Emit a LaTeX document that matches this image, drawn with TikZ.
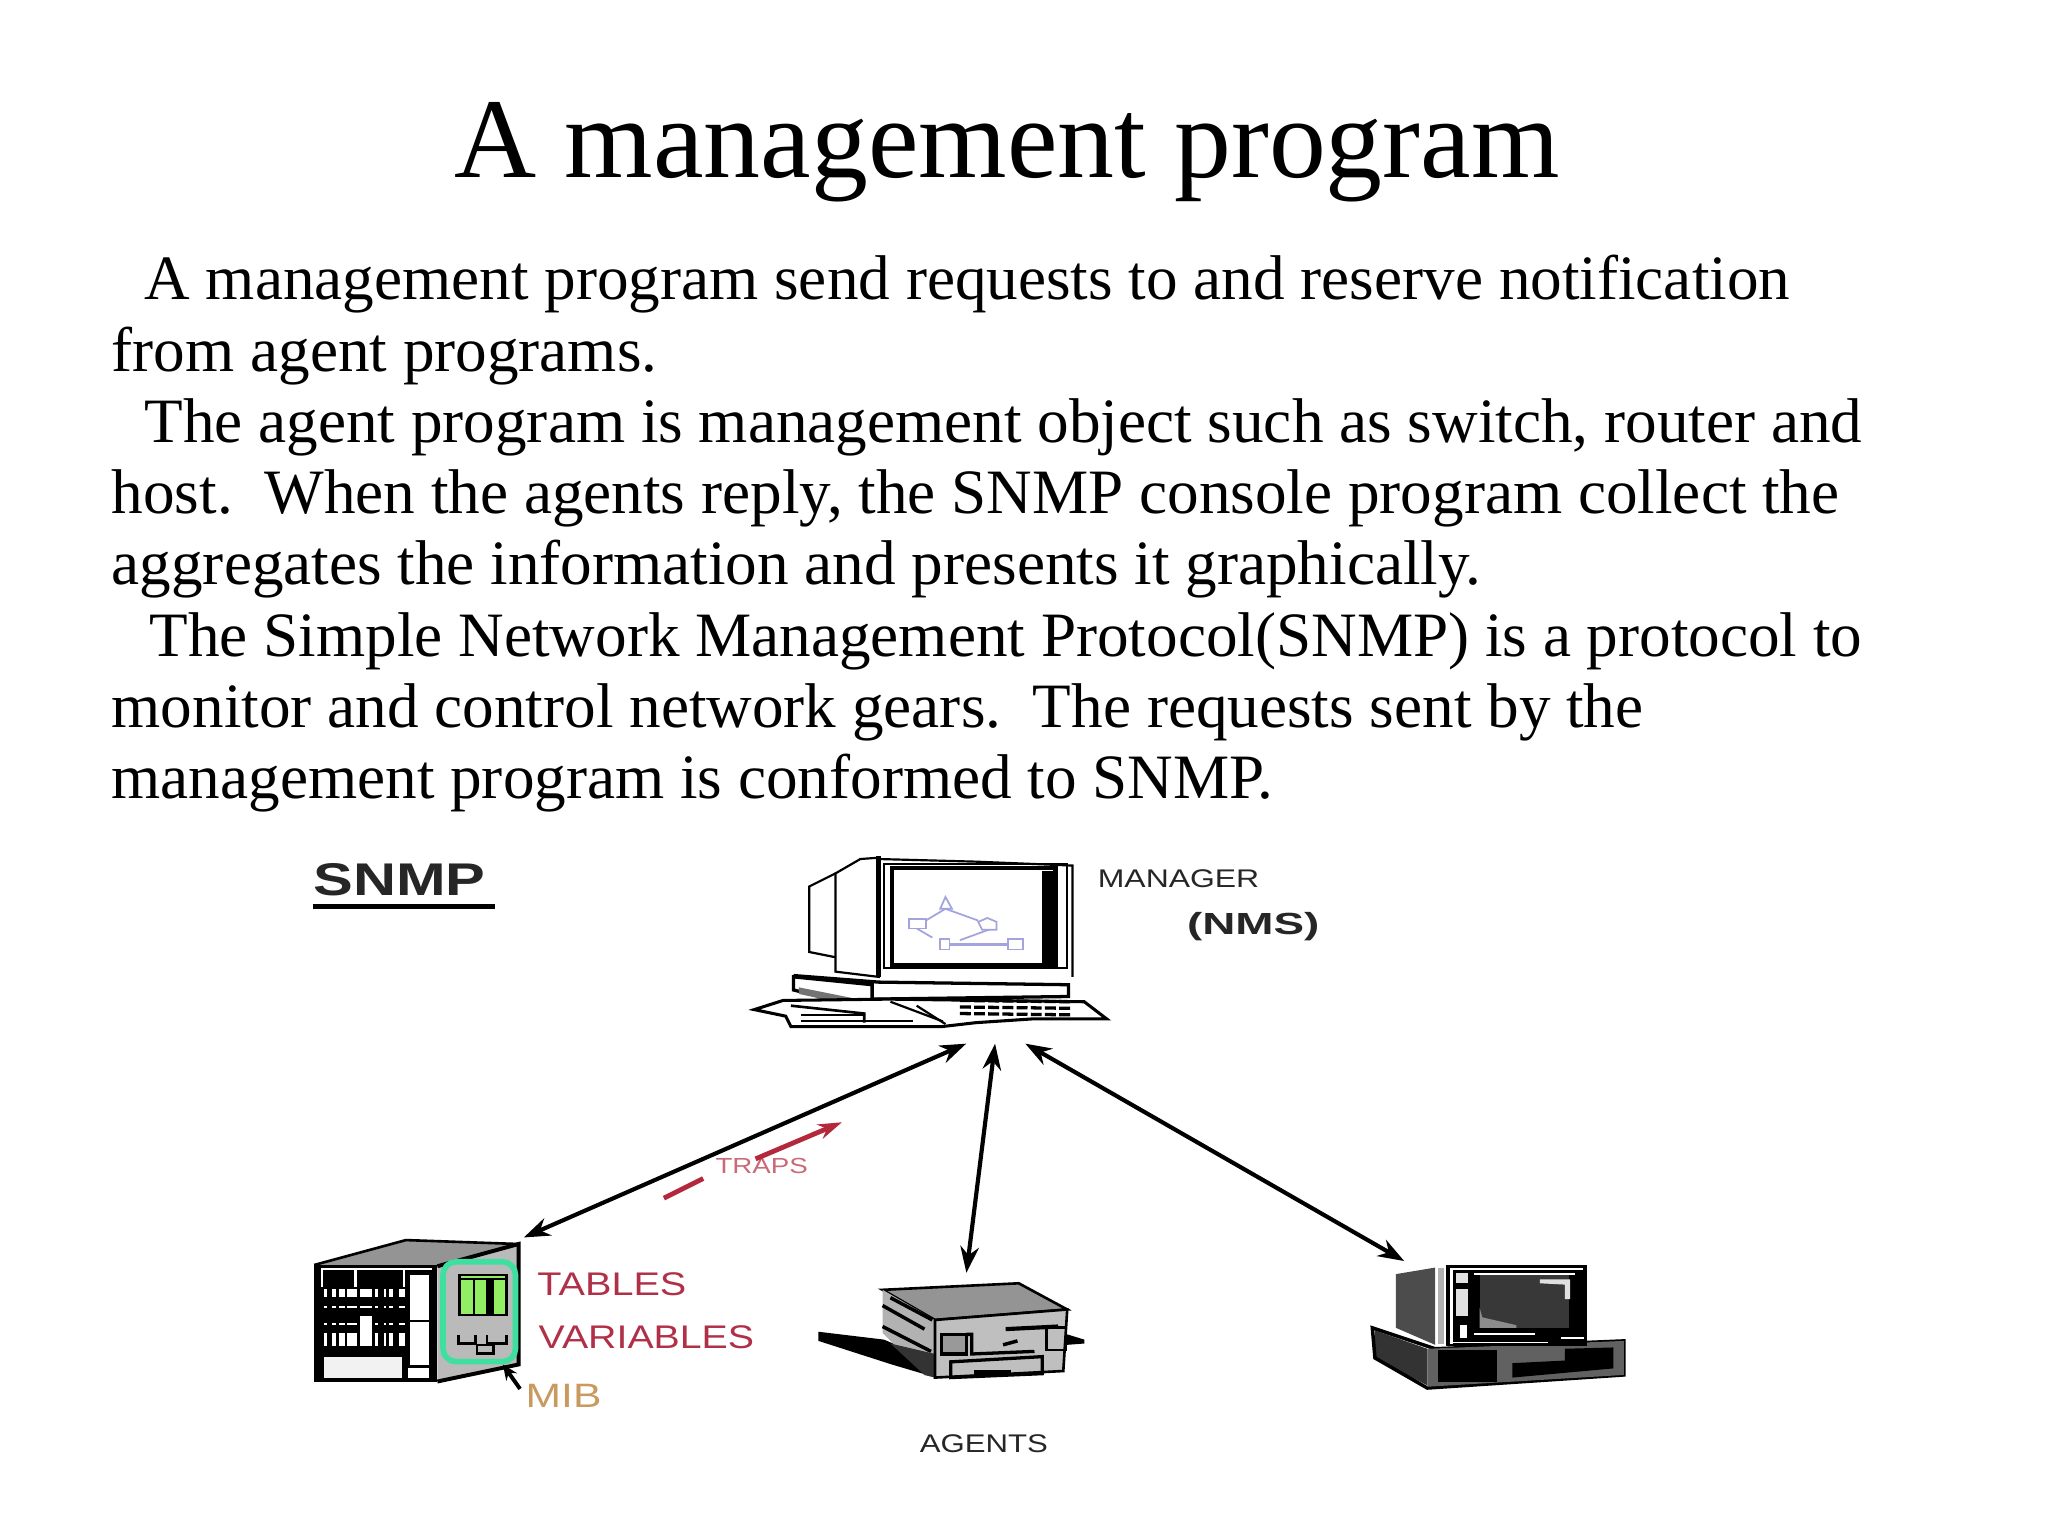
\documentclass[tikz,border=0pt]{standalone}
\usepackage{fontspec}
\setmainfont{Liberation Serif}
\newfontfamily\iconfont{Liberation Sans}
\usetikzlibrary{arrows.meta}
\definecolor{trapred}{HTML}{B4283C}
\definecolor{tablered}{HTML}{B03048}
\definecolor{mibtan}{HTML}{C89A60}
\definecolor{netblue}{HTML}{A4A4DC}
\definecolor{ringgreen}{HTML}{3FDF9F}
\definecolor{cellgreen}{HTML}{92EE62}
\tikzset{
	titleline/.style={inner sep=0pt,font=\fontsize{52.1}{60}\selectfont},
	bodyline/.style={anchor=base west,inner sep=0pt,font=\fontsize{28.95}{34}\selectfont},
	iconlabel/.style={anchor=base west,inner sep=0pt,transform shape,text=black!85},
	iconbox/.style={inner sep=0pt,outer sep=0pt},
	linkline/.style={line width=1.9pt,{Stealth[length=12pt,width=8.5pt]}-{Stealth[length=12pt,width=8.5pt]}},
	trapline/.style={line width=2.2pt,trapred},
	netline/.style={netblue,line width=0.8pt}
}
\begin{document}
\begin{tikzpicture}[x=0.6pt,y=-0.6pt]
	\useasboundingbox (0,0) rectangle (1564,1172.2);

	\node[titleline] (title) at (769,116) {A management program};
	\node[bodyline] (lineA) at (110,229) {A management program send requests to and reserve notification};
	\node[bodyline] (lineB) at (85,283.4) {from agent programs.};
	\node[bodyline] (lineC) at (110,337.8) {The agent program is management object such as switch, router and};
	\node[bodyline] (lineD) at (85,392.2) {host.~~When the agents reply, the SNMP console program collect the};
	\node[bodyline] (lineE) at (85,446.6) {aggregates the information and presents it graphically.};
	\node[bodyline] (lineF) at (114,501) {The Simple Network Management Protocol(SNMP) is a protocol to};
	\node[bodyline] (lineG) at (85,555.4) {monitor and control network gears.~~The requests sent by the};
	\node[bodyline] (lineH) at (85,609.8) {management program is conformed to SNMP.};

	\node[iconlabel,xscale=1.3,font=\iconfont\bfseries\fontsize{21}{24}\selectfont] (snmp) at (239,684) {SNMP};
	\draw[line width=2.2pt] (snmp.base west |- 0,692) -- (378,692);
	\node[iconlabel,xscale=1.25,font=\iconfont\fontsize{11.7}{14}\selectfont] (mgrlabel) at (838,678) {MANAGER};
	\node[iconlabel,xscale=1.5,font=\iconfont\bfseries\fontsize{14}{16}\selectfont] (nms) at (906,714) {(NMS)};
	\node[iconlabel,xscale=1.27,text=trapred!70,font=\iconfont\fontsize{10}{12}\selectfont] (traps) at (546,896) {TRAPS};
	\node[iconlabel,xscale=1.21,text=tablered,font=\iconfont\fontsize{15}{18}\selectfont] (tables) at (410,989) {TABLES};
	\node[iconlabel,xscale=1.2,text=tablered,font=\iconfont\fontsize{15}{18}\selectfont] (variables) at (411,1030) {VARIABLES};
	\node[iconlabel,xscale=1.26,text=mibtan,font=\iconfont\fontsize{15.5}{18}\selectfont] (mib) at (401,1075) {MIB};
	\node[iconlabel,xscale=1.22,font=\iconfont\fontsize{11.7}{14}\selectfont] (agents) at (702,1109) {AGENTS};

	% manager
	\draw[line width=1pt] (638,667) -- (618,677) -- (618,727) -- (638,731);
	\draw[line width=1pt,fill=white] (671,655) -- (657,656) -- (638,667) -- (638,742) -- (671,746) -- cycle;
	\draw[line width=2.2pt] (671,654) -- (671,746);
	\draw[line width=1pt] (671,656) -- (745,658) -- (819,661) -- (819,746);
	\draw[line width=0.9pt] (675,660) rectangle (815,739);
	\draw[line width=2pt,fill=white] (681,663) rectangle (806,737);
	\fill (796,665) rectangle (805,736);
	\draw[line width=1.5pt] (606,745) -- (671,750) -- (816,752) -- (816,761) -- (666,763) -- (666,752) -- (606,746) -- (606,756) -- (666,771);
	\fill[black!55] (610,754) -- (670,766) -- (670,772) -- (610,759) -- cycle;
	\fill (668,763) rectangle (679,772);
	\draw[line width=1.4pt,fill=white] (576,771) -- (598,764) -- (679,763) -- (828,765) -- (845,778) -- (790,778) -- (745,781) -- (719,784) -- (604,784) -- (600,776) -- cycle;
	\draw[line width=1.2pt] (604,768) -- (660,774) -- (660,781);
	\draw[line width=1pt] (612,775) -- (660,775);
	\draw[line width=1pt] (612,780) -- (697,780);
	\foreach \y in {764,769,774} {
		\draw[line width=1.5pt,dash pattern=on 5pt off 1.5pt] (733,\y) -- (818,\y+1);
	}
	\draw[line width=1pt] (680,765) -- (720,780);
	\draw[line width=1pt] (700,768) -- (722,782);

	% network on the screen
	\draw[netline] (707,703) -- (722,694) -- (747,703);
	\draw[netline] (700,709) -- (712,716);
	\draw[netline] (755,710) -- (733,718);
	\draw[netblue,line width=1.5pt] (725,721) -- (771,721);
	\draw[netline,fill=white] (718,694) -- (722,685) -- (727,694) -- cycle;
	\draw[netline,fill=white] (694,702) rectangle (707,709);
	\draw[netline,fill=white] (747,704) -- (754,701) -- (761,704) -- (761,710) -- (750,710) -- cycle;
	\draw[netline,fill=white] (718,717) rectangle (725,725);
	\draw[netline,fill=white] (770,717) rectangle (781,725);

	% router with its mib
	\fill[black!42] (240,966) -- (310,947) -- (396,950) -- (334,967) -- cycle;
	\fill (240,966) rectangle (334,1055);
	\draw[line width=1.2pt] (240,966) -- (310,947) -- (396,950);
	\draw[line width=1.8pt,fill=black!27] (334,967) -- (396,950) -- (396,1042) -- (334,1055);
	\fill[white] (245,968) rectangle (330,970);
	\foreach \x in {246,271.5,308.4} {
		\fill[white] (\x-1,969) rectangle (\x+1,983);
	}
	\foreach \x/\w in {247.4/2,253.8/2.5,258.8/4.3,265.2/7.1,274.6/9.6,286.5/2,293/2,297.4/2.8,304.5/4.6} {
		\fill[white] (\x,984.7) rectangle (\x+\w,990.8);
		\fill[white] (\x,1018.2) rectangle (\x+\w,1027.6);
		\fill[white] (\x,997) rectangle (\x+\w,998.5);
		\fill[white] (\x,1010.5) rectangle (\x+\w,1012);
	}
	\fill[white] (274.6,1005) rectangle (284.2,1028);
	\fill[white] (313.4,973.8) rectangle (327.4,1008);
	\fill[white] (313.4,1009.3) rectangle (327.4,1042.3);
	\fill[white] (311.4,1044.9) rectangle (327.4,1052.5);
	\fill[black!5] (247.4,1036) rectangle (307,1052.5);
	\draw[ringgreen,line width=2.6pt,rounded corners=6pt] (338.3,963.6) rectangle (393.7,1039.8);
	\draw[line width=1.2pt,fill=cellgreen] (350.8,973.8) rectangle (386.6,1004.2);
	\draw[line width=1.2pt] (350.8,976.8) -- (386.6,976.8);
	\draw[line width=1pt] (362.2,976.8) -- (362.2,1004.2);
	\fill (371,976.8) rectangle (377.4,1004.2);
	\draw[line width=1.2pt] (350.3,1019.5) -- (350.3,1025.8) -- (363,1025.8) -- (363,1019.5);
	\draw[line width=1.2pt] (371.9,1019.5) -- (371.9,1025.8) -- (386.6,1025.8) -- (386.6,1019.5);
	\draw[line width=1.2pt] (364.2,1027) rectangle (377,1033.4);

	% printer
	\fill (625,1017) -- (675,1023) -- (708,1037) -- (708,1050) -- (681,1042) -- (625,1024) -- cycle;
	\fill (815,1019) -- (828,1023) -- (828,1026) -- (815,1027) -- cycle;
	\draw[line width=1.2pt,fill=black!42] (674,985) -- (778,980) -- (815,1000) -- (714,1008) -- cycle;
	\fill[black!30] (674,985) -- (714,1008) -- (714,1052) -- (706,1050) -- (674,1018) -- cycle;
	\draw[line width=1.6pt] (680,991) -- (712,1008);
	\draw[line width=1.6pt] (674,997) -- (706,1015);
	\draw[line width=1.6pt] (674,1013) -- (711,1032);
	\fill[black!80] (680,1026) -- (714,1034) -- (714,1052) -- (706,1050) -- cycle;
	\draw[line width=1.2pt,fill=black!25] (714,1008) -- (815,1000) -- (812,1047) -- (714,1052) -- cycle;
	\draw[line width=1.6pt,fill=black!40] (719,1019) rectangle (738,1034);
	\draw[line width=1.9pt] (768,1015) -- (808,1013);
	\draw[line width=1.5pt] (738,1019) -- (742,1019) -- (742,1034) -- (790,1032);
	\draw[line width=1.6pt] (766,1027) -- (777,1024);
	\draw[line width=1.3pt] (799,1014) rectangle (814,1031);
	\draw[line width=1.5pt] (726,1040) -- (796,1036) -- (796,1049) -- (726,1052) -- cycle;
	\fill (744,1046) rectangle (772,1050);

	% host
	\fill[black!80] (1050,1016) -- (1090,1030) -- (1090,1058) -- (1050,1037) -- cycle;
	\draw[line width=1.6pt] (1048,1014) -- (1096,1030) -- (1240,1024) -- (1240,1050) -- (1090,1060) -- (1050,1037) -- cycle;
	\fill[black!62] (1090,1030) -- (1240,1024) -- (1240,1050) -- (1090,1059) -- cycle;
	\fill (1098,1031) rectangle (1143,1055);
	\fill (1155,1041) -- (1195,1039) -- (1195,1030) -- (1232,1029) -- (1232,1045) -- (1155,1052) -- cycle;
	\fill[black!70] (1066,973) -- (1096,968) -- (1096,1027) -- (1066,1014) -- cycle;
	\fill[black!30] (1098,968) rectangle (1103,1026);
	\fill (1104,966) rectangle (1212,1028);
	\fill[black!78] (1130,974) rectangle (1198,1014);
	\fill[black!12] (1176,977) -- (1199,977) -- (1199,992) -- (1195,992) -- (1195,981) -- (1176,980) -- cycle;
	\fill[black!45] (1130,999) -- (1132,1006) -- (1158,1012) -- (1158,1014) -- (1130,1014) -- cycle;
	\fill[white] (1107,968.5) rectangle (1209,969.8);
	\fill[white] (1107,968.5) rectangle (1109.5,1026);
	\fill[white] (1107,1024.5) rectangle (1182,1025.8);
	\fill[white] (1126,972) rectangle (1203,973.3);
	\fill[white] (1126,1018) rectangle (1172,1019.5);
	\fill[white] (1192,1021) rectangle (1210,1022.5);
	\fill[black!12] (1112,972) rectangle (1121,980);
	\fill[black!12] (1112,984) rectangle (1121,1005);
	\fill[white] (1115,1012) rectangle (1120,1022);

	\node[iconbox,minimum width=263pt*0.6,minimum height=142pt*0.6] (manager) at (712,726) {};
	\node[iconbox,minimum width=160pt*0.6,minimum height=110pt*0.6] (router) at (320,1000) {};
	\node[iconbox,minimum width=226pt*0.6,minimum height=80pt*0.6] (printer) at (738,1012) {};
	\node[iconbox,minimum width=195pt*0.6,minimum height=98pt*0.6] (host) at (1145,1012) {};

	\draw[linkline] (manager.-70.6) -- (router.north east);
	\draw[linkline] (manager.-56) -- (printer.north);
	\draw[linkline] (manager.-45) -- (host.146);

	\coordinate (trapA) at (507,915);
	\coordinate (trapB) at (537,900);
	\coordinate (trapC) at (577,885);
	\coordinate (trapD) at (643,857);
	\draw[trapline] (trapA) -- (trapB);
	\draw[trapline,-{Stealth[length=11pt,width=7pt]}] (trapC) -- (trapD);

	\coordinate (mibtip) at (384,1042);
	\draw[line width=1.8pt,shorten <=4pt,-{Stealth[length=7pt,width=6pt]}] (mib.west) -- (mibtip);
\end{tikzpicture}
\end{document}
